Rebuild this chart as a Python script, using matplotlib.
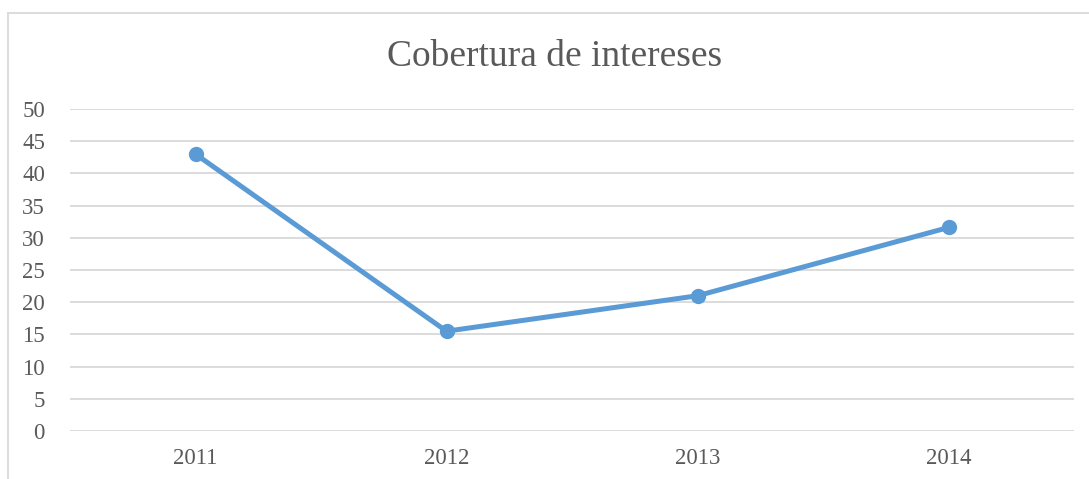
import matplotlib.pyplot as plt
from matplotlib.lines import Line2D

years = ['2011', '2012', '2013', '2014']
cobertura = [43.0, 15.5, 21.0, 31.6]
yticks = list(range(0, 55, 5))

plt.rcParams['font.family'] = ['Liberation Serif', 'DejaVu Serif']

fig = plt.figure(figsize=(10.89, 4.79), dpi=100)
ax = fig.add_axes([70 / 1089, 1 - 431 / 479, 1004 / 1089, 322 / 479])

x = list(range(len(years)))
ax.plot(x, cobertura, color='#5B9BD5', lw=3.6, marker='o', markersize=10, zorder=3)

ax.set_xlim(-0.5, len(years) - 0.5)
ax.set_ylim(0, 50)
ax.set_yticks(yticks)
ax.set_xticks(x)
ax.set_xticklabels(years)
ax.grid(axis='y', color='#D9D9D9', lw=1.3)
ax.set_axisbelow(True)
for s in ax.spines.values():
    s.set_visible(False)
ax.tick_params(length=0, labelsize=16.5, colors='#595959', pad=10)
ax.tick_params(axis='y', pad=18)
ax.tick_params(axis='x', pad=12)

fig.text(555 / 1089, 1 - 57 / 479, 'Cobertura de intereses', ha='center', va='center',
         fontsize=27, color='#595959')

# marco del gráfico
fig.add_artist(Line2D([8 / 1089, 8 / 1089], [0, 1 - 13 / 479], color='#D9D9D9', lw=1.3))
fig.add_artist(Line2D([8 / 1089, 1], [1 - 13 / 479, 1 - 13 / 479], color='#D9D9D9', lw=1.3))

fig.savefig('out.png', dpi=100)
